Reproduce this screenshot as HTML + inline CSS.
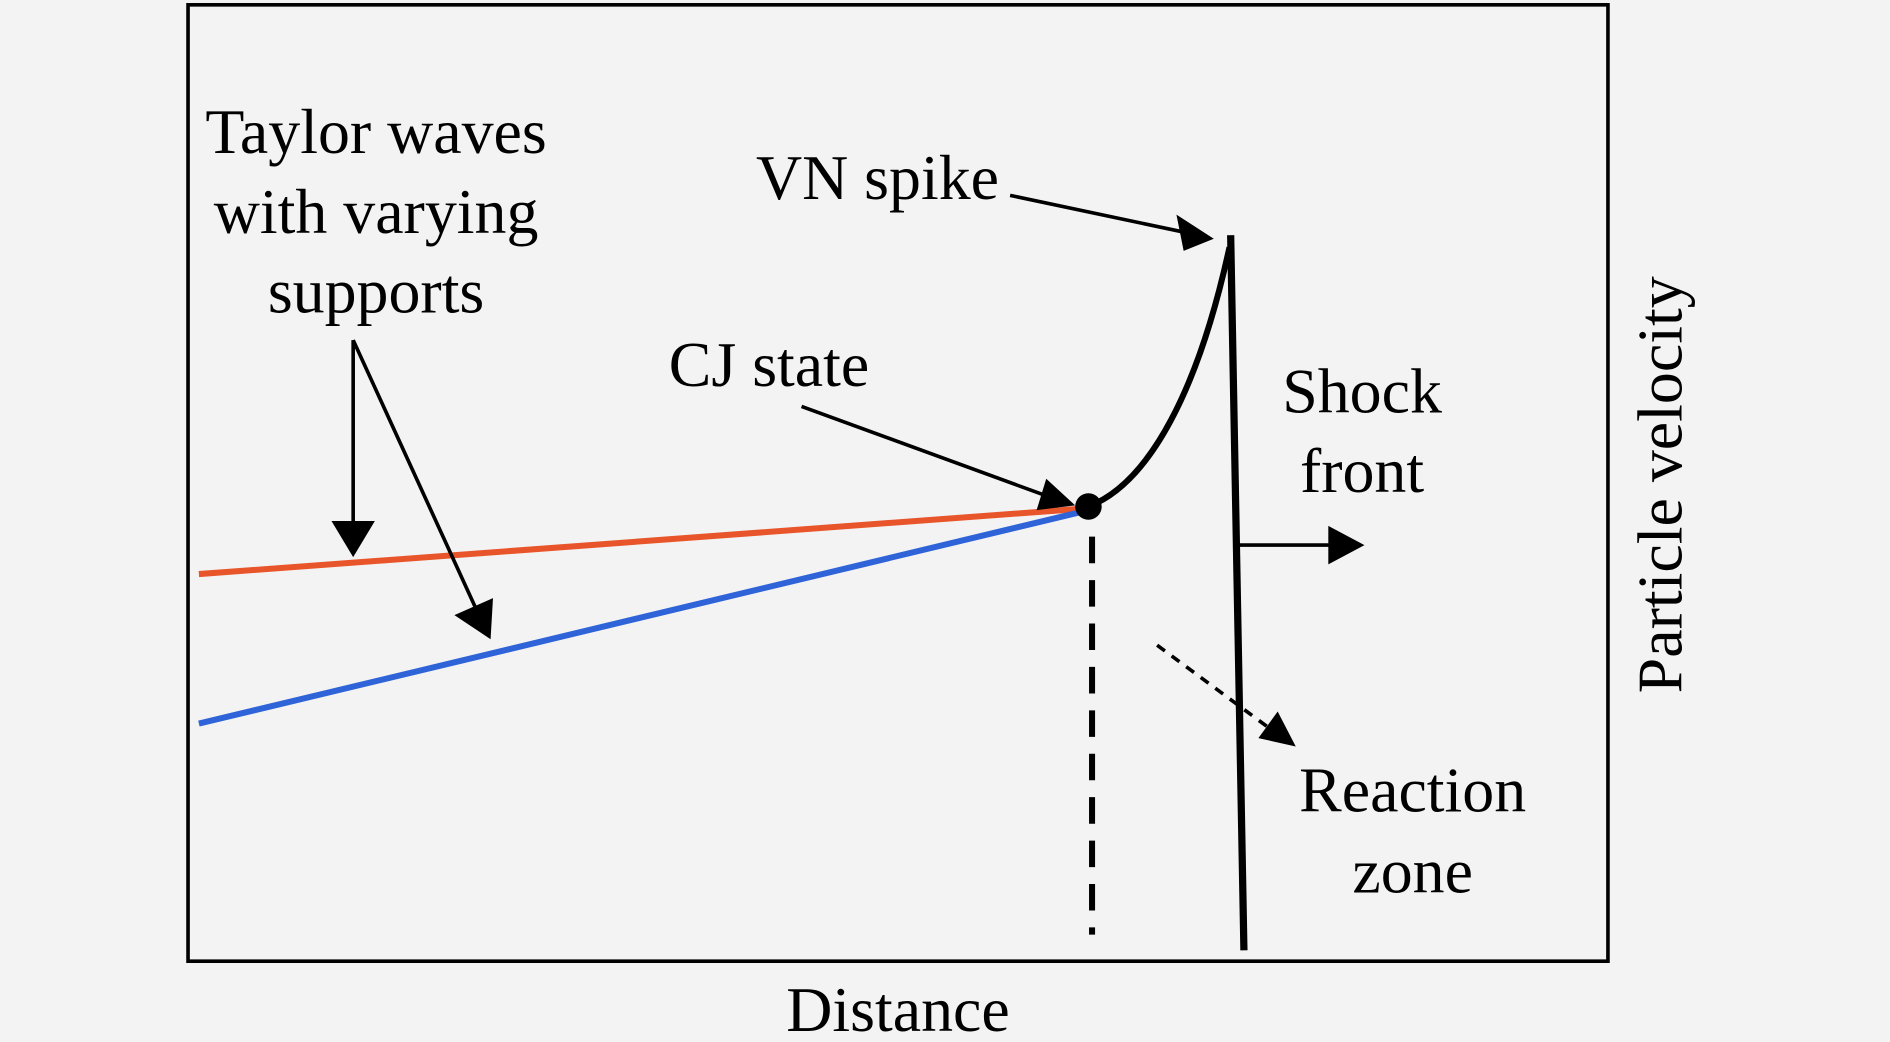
<!DOCTYPE html>
<html><head><meta charset="utf-8"><style>
html,body{margin:0;padding:0;background:#f3f3f3;}
svg{display:block;}
text{font-family:"Liberation Serif",serif;fill:#000;}
</style></head><body>
<svg width="1890" height="1042" viewBox="0 0 1568 864" preserveAspectRatio="none" xmlns="http://www.w3.org/2000/svg">
<rect width="1568" height="864" fill="#f3f3f3"/>
<rect x="156" y="4" width="1178" height="793" fill="#f3f3f3" stroke="#000" stroke-width="3"/>
<g font-size="53" text-anchor="middle">
<text x="312" y="127">Taylor waves</text>
<text x="312" y="193">with varying</text>
<text x="312" y="259">supports</text>
<text x="728" y="165">VN spike</text>
<text x="638" y="320">CJ state</text>
<text x="1130" y="342">Shock</text>
<text x="1130" y="408">front</text>
<text x="1172" y="673">Reaction</text>
<text x="1172" y="740">zone</text>
<text x="745" y="855">Distance</text>
<text transform="translate(1395,402) rotate(-90)">Particle velocity</text>
</g>
<line x1="165" y1="476" x2="895" y2="422" stroke="#e8552a" stroke-width="5"/>
<line x1="165" y1="600" x2="895" y2="425" stroke="#2f63d8" stroke-width="5"/>
<path d="M903 420 C955 400 995 320 1020 205" fill="none" stroke="#000" stroke-width="5"/>
<line x1="1021" y1="195" x2="1032" y2="788" stroke="#000" stroke-width="6"/>
<line x1="906" y1="445" x2="906" y2="775" stroke="#000" stroke-width="5" stroke-dasharray="22,14"/>
<circle cx="903" cy="420" r="11" fill="#000"/>
<g stroke="#000" stroke-width="3" fill="none">
<line x1="293" y1="282" x2="293" y2="435"/>
<line x1="293" y1="282" x2="395" y2="505"/>
<line x1="838" y1="162" x2="980" y2="192"/>
<line x1="665" y1="337" x2="865" y2="410"/>
<line x1="1028" y1="452" x2="1105" y2="452"/>
<line x1="960" y1="535" x2="1052" y2="603" stroke-dasharray="8,7"/>
</g>
<g fill="#000">
<polygon points="275,432 311,432 293,462"/>
<polygon points="377,510 409,496 407,530"/>
<polygon points="976,178 982,208 1007,198"/>
<polygon points="868,397 860,423 892,419"/>
<polygon points="1102,436 1102,468 1132,452"/>
<polygon points="1060,590 1044,612 1075,619"/>
</g>
</svg>
</body></html>
